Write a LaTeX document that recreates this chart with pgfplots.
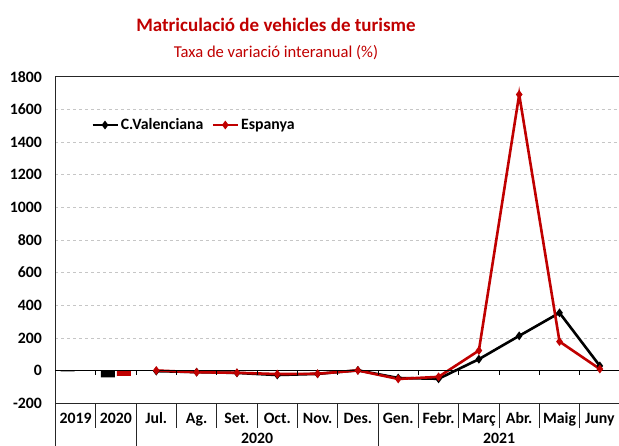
\documentclass[border=0pt]{standalone}
\usepackage{fontspec}
\setmainfont{Carlito}
\usepackage{pgfplots}
\pgfplotsset{compat=1.18}
\definecolor{rojo}{RGB}{192,0,0}
\newcommand{\tfont}{\fontsize{15.8}{18}\selectfont\bfseries}
\begin{document}
\begin{tikzpicture}[x=1pt,y=1pt]
\begin{axis}[
 at={(55.5pt,42.7pt)}, anchor=south west,
 width=564.5pt, height=326.6pt, scale only axis,
 xmin=-0.5, xmax=13.5, ymin=-200, ymax=1800,
 ytick={-200,0,...,1800},
 yticklabels={-200,0,200,400,600,800,1000,1200,1400,1600,1800},
 xtick={0,...,13},
 xticklabels={2019,2020,Jul.,Ag.,Set.,Oct.,Nov.,Des.,Gen.,Febr.,Març,Abr.,Maig,Juny},
 major tick length=0pt,
 tick label style={font=\tfont},
 xticklabel style={anchor=base, yshift=-20pt},
 yticklabel style={anchor=east, xshift=-10pt},
 axis x line*=bottom, axis y line*=left,
 axis line style={line width=1.4pt, black!85},
 ymajorgrids, grid style={dashed, gray!45, line width=0.6pt},
 clip=false,
 legend columns=2,
 legend style={at={(0.0576,0.852)}, anchor=west, draw=none, fill=none,
   font=\tfont, /tikz/every even column/.append style={column sep=6pt}},
 legend image code/.code={\draw[mark repeat=2,mark phase=2] plot coordinates {(0pt,0pt) (12.5pt,0pt) (25pt,0pt)};},
]
\addplot[ybar, bar width=14pt, bar shift=-8pt, fill=black, draw=none, forget plot] coordinates {(0,-4) (1,-42)};
\addplot[ybar, bar width=14pt, bar shift=8pt, fill=rojo, draw=none, forget plot] coordinates {(0,-2) (1,-32)};
\addplot[black, line width=2.6pt, mark=diamond*, mark size=2.3pt, mark options={solid}] coordinates {(2,-3) (3,-9) (4,-14) (5,-27) (6,-20) (7,2) (8,-45) (9,-50) (10,70) (11,213) (12,354) (13,29)};
\addlegendentry{C.Valenciana}
\addplot[rojo, line width=2.6pt, mark=diamond*, mark size=2.3pt, mark options={solid}] coordinates {(2,1) (3,-10) (4,-13) (5,-21) (6,-19) (7,1) (8,-51) (9,-38) (10,123) (11,1691) (12,178) (13,10)};
\addlegendentry{Espanya}
\draw[line width=1.4pt, black!85] (rel axis cs:0,1) -- (rel axis cs:1,1);
\draw[line width=1.1pt, black] (axis cs:-0.5,0) -- (axis cs:13.5,0);
\pgfplotsinvokeforeach{0.5,1.5,2.5,3.5,4.5,5.5,6.5,7.5,8.5,9.5,10.5,11.5,12.5}{
  \draw[line width=0.9pt, black] (axis cs:#1,0) -- ++(0pt,-4pt);
}
\pgfplotsinvokeforeach{0.5,2.5,3.5,4.5,5.5,6.5,8.5,9.5,10.5,11.5,12.5}{
  \draw[line width=0.9pt, black!85] (axis cs:#1,-200) -- ++(0pt,-25pt);
}
\pgfplotsinvokeforeach{-0.5,1.5,7.5}{
  \draw[line width=0.9pt, black!85] (axis cs:#1,-200) -- ++(0pt,-45pt);
}
\node[anchor=base, font=\tfont, yshift=-40pt] at (axis cs:4.5,-200) {2020};
\node[anchor=base, font=\tfont, yshift=-40pt] at (axis cs:10.5,-200) {2021};
\end{axis}
\node[anchor=base, font=\fontsize{19}{22}\selectfont\bfseries, text=rojo] at (276pt,414.5pt) {Matriculació de vehicles de turisme};
\node[anchor=base, font=\fontsize{16.6}{19}\selectfont, text=rojo] at (276pt,388.5pt) {Taxa de variació interanual (\%)};
\pgfresetboundingbox
\path[use as bounding box] (0,0) rectangle (619pt,446pt);
\end{tikzpicture}
\end{document}
